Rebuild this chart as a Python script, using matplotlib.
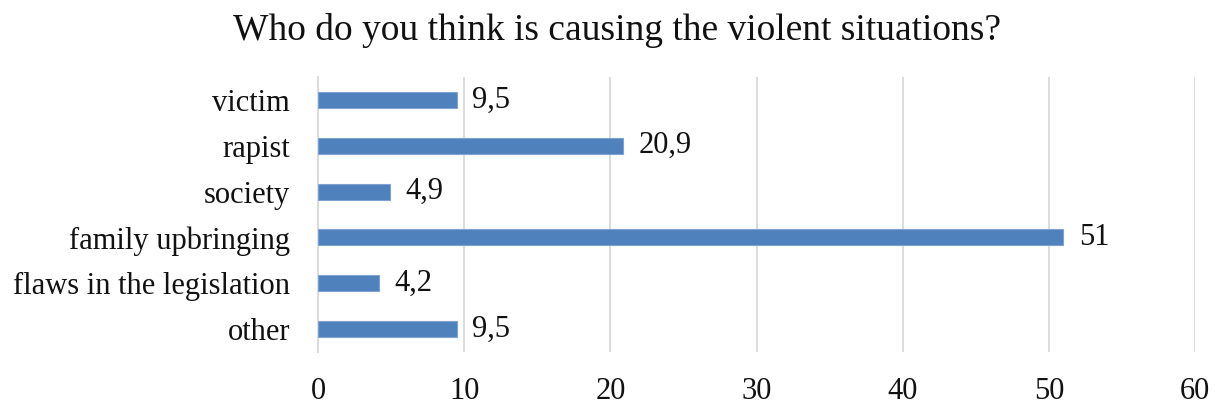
import matplotlib
matplotlib.use("Agg")
import matplotlib.pyplot as plt

categories = ["victim", "rapist", "society", "family upbringing",
              "flaws in the legislation", "other"]
values = [9.5, 20.9, 4.9, 51, 4.2, 9.5]
value_labels = ["9,5", "20,9", "4,9", "51", "4,2", "9,5"]
xticks = [0, 10, 20, 30, 40, 50, 60]
title = "Who do you think is causing the violent situations?"

plt.rcParams["font.family"] = ["Liberation Serif", "DejaVu Serif"]

fig = plt.figure(figsize=(12.15, 4.05), dpi=100)
ax = fig.add_axes([318 / 1215, 1 - 352 / 405, (1195 - 318) / 1215, (352 - 77) / 405])

y = list(range(len(categories)))
ax.barh(y, values, height=0.35, color="#4F81BD", edgecolor="#7FA2D3",
        linewidth=0.8, zorder=3)
for yi, v, lab in zip(y, values, value_labels):
    ax.annotate(lab, (v, yi), xytext=(11, 0), textcoords="offset points",
                va="center", ha="left", fontsize=22, color="#111111")

ax.set_ylim(len(categories) - 0.5, -0.5)
ax.set_xlim(0, 60)
ax.set_xticks(xticks)
ax.set_xticklabels([str(t) for t in xticks], fontsize=22)
ax.set_yticks(y)
ax.set_yticklabels(categories, fontsize=22)
ax.tick_params(axis="both", length=0, colors="#111111")
ax.tick_params(axis="x", pad=18)
ax.tick_params(axis="y", pad=20)
ax.xaxis.grid(True, color="#D9D9D9", linewidth=1.3, zorder=0)
for side in ["top", "right", "bottom"]:
    ax.spines[side].set_visible(False)
ax.spines["left"].set_color("#D9D9D9")
ax.spines["left"].set_linewidth(1.3)

fig.text(0.508, 1 - 30 / 405, title, ha="center", va="center", fontsize=27,
         color="#111111")

fig.savefig("out.png", dpi=100, facecolor="white")
